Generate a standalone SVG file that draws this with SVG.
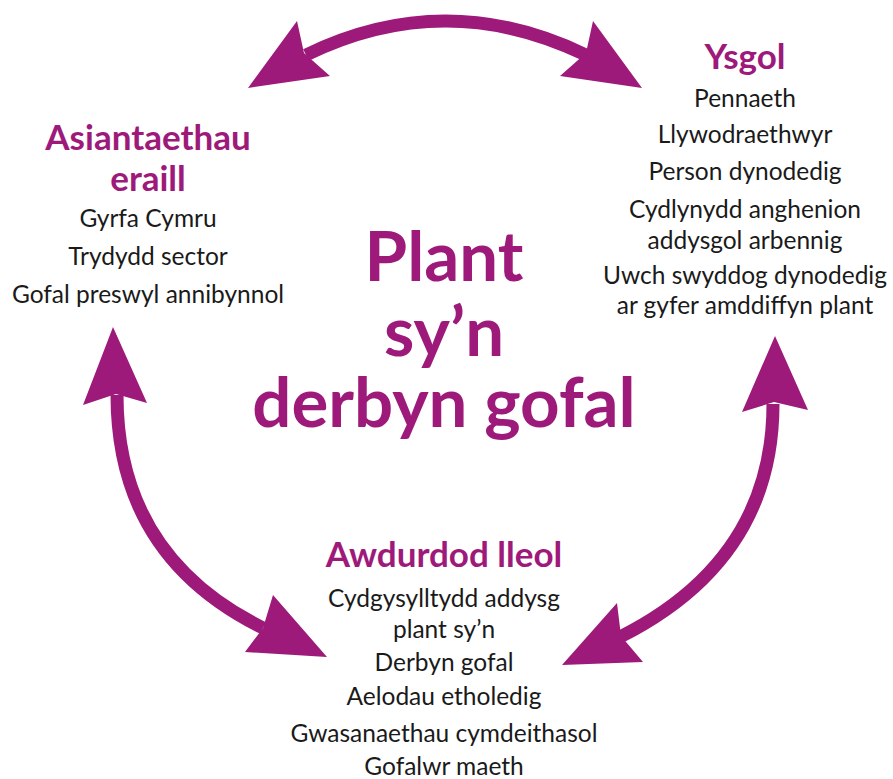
<svg xmlns="http://www.w3.org/2000/svg" width="893" height="779" viewBox="0 0 893 779">
<style>
.shaft{fill:none;stroke:#9e1a7a;stroke-width:13}
.head{fill:#9e1a7a}
.h{font-family:Lato,"Liberation Sans",sans-serif;font-weight:bold;font-size:35px;fill:#9e1a7a;text-anchor:middle}
.b{font-family:Lato,"Liberation Sans",sans-serif;font-size:24.5px;fill:#1a1a1a;text-anchor:middle}
.t{font-family:Lato,"Liberation Sans",sans-serif;font-weight:bold;font-size:69px;fill:#9e1a7a;text-anchor:middle}
</style>
<rect width="893" height="779" fill="#ffffff"/>
<g id="connectors">
<path class="shaft" d="M306,55 Q445,-13 586,55"/>
<polygon class="head" points="248,88 297,21 304,53 330,76"/>
<polygon class="head" points="642,88 593,21 586,53 560,76"/>
<path class="shaft" d="M117,395 Q117,556 263,628"/>
<polygon class="head" points="113,327 83,405 116,394 147,403"/>
<polygon class="head" points="327,657 273,595 263,628 245,652"/>
<path class="shaft" d="M773,404 Q773,560 620,637"/>
<polygon class="head" points="775,336 742,412 774,402 808,410"/>
<polygon class="head" points="562,665 617,603 621,636 643,662"/>
</g>
<g id="center">
<text class="t" x="444" y="281">Plant</text>
<text class="t" x="444" y="356">sy’n</text>
<text class="t" x="444" y="427">derbyn gofal</text>
</g>
<g id="asiantaethau">
<text class="h" x="148" y="150">Asiantaethau</text>
<text class="h" x="148" y="191">eraill</text>
<text class="b" x="148" y="227">Gyrfa Cymru</text>
<text class="b" x="148" y="265">Trydydd sector</text>
<text class="b" x="148" y="303">Gofal preswyl annibynnol</text>
</g>
<g id="ysgol">
<text class="h" x="745" y="69">Ysgol</text>
<text class="b" x="745" y="107">Pennaeth</text>
<text class="b" x="745" y="143">Llywodraethwyr</text>
<text class="b" x="745" y="180">Person dynodedig</text>
<text class="b" x="745" y="218">Cydlynydd anghenion</text>
<text class="b" x="745" y="249">addysgol arbennig</text>
<text class="b" x="745" y="284">Uwch swyddog dynodedig</text>
<text class="b" x="745" y="314">ar gyfer amddiffyn plant</text>
</g>
<g id="awdurdod">
<text class="h" x="444" y="567">Awdurdod lleol</text>
<text class="b" x="444" y="607">Cydgysylltydd addysg</text>
<text class="b" x="444" y="638">plant sy’n</text>
<text class="b" x="444" y="671">Derbyn gofal</text>
<text class="b" x="444" y="705">Aelodau etholedig</text>
<text class="b" x="444" y="742">Gwasanaethau cymdeithasol</text>
<text class="b" x="444" y="775">Gofalwr maeth</text>
</g>
</svg>
